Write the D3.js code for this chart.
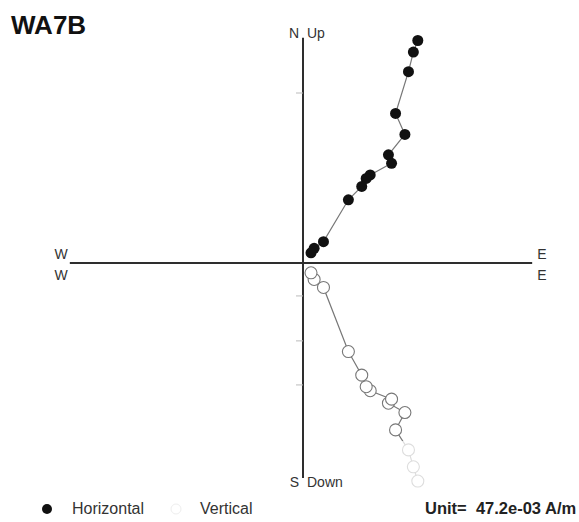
<!DOCTYPE html>
<html>
<head>
<meta charset="utf-8">
<script src="https://cdn.jsdelivr.net/npm/d3@7/dist/d3.min.js"></script>
<style>
  html, body { margin: 0; padding: 0; background: #fff; }
  svg { display: block; font-family: "Liberation Sans", Arial, sans-serif; }
</style>
</head>
<body>
<svg id="chart" width="579" height="522"></svg>
<script>
// Demagnetisation steps of specimen WA7B, in units of 47.2e-03 A/m.
const specimen = "WA7B";
const unitLabel = "Unit=  47.2e-03 A/m";
const east  = [2.58, 2.48, 2.37, 2.08, 2.29, 1.92, 1.99, 1.51, 1.42, 1.32, 1.02, 0.46, 0.25, 0.18];
const north = [5.00, 4.74, 4.30, 3.36, 2.89, 2.43, 2.24, 1.98, 1.90, 1.72, 1.42, 0.48, 0.33, 0.23];
const up    = [-4.90, -4.58, -4.20, -3.75, -3.36, -3.15, -3.06, -2.87, -2.78, -2.52, -1.99, -0.55, -0.37, -0.22];
// Axis extents and tick positions (same units)
const axisEW = [-5.24, 5.15];
const axisNS = [-4.83, 5.06];
const tickNS = [3.82, -0.74, -1.75, -2.74];

const svg = d3.select("#chart");
const x = d3.scaleLinear().domain([0, 1]).range([303, 347.5]);
const y = d3.scaleLinear().domain([0, 1]).range([263, 218.5]);

// Axes
const axisColor = "#2e2e2e";
svg.append("line")
  .attr("x1", x(axisEW[0])).attr("x2", x(axisEW[1]))
  .attr("y1", y(0)).attr("y2", y(0))
  .attr("stroke", axisColor).attr("stroke-width", 1.8);
svg.append("line")
  .attr("x1", x(0)).attr("x2", x(0))
  .attr("y1", y(axisNS[1])).attr("y2", y(axisNS[0]))
  .attr("stroke", axisColor).attr("stroke-width", 2);
svg.selectAll("line.tick").data(tickNS).join("line")
  .attr("class", "tick")
  .attr("x1", x(0) - 7).attr("x2", x(0))
  .attr("y1", d => y(d)).attr("y2", d => y(d))
  .attr("stroke", "#bbb").attr("stroke-width", 1);

// Horizontal projection (E vs N) and vertical projection (E vs Down)
const horiz = east.map((e, i) => [e, north[i]]);
const vert = east.map((e, i) => [e, up[i]]);
const line = d3.line().x(d => x(d[0])).y(d => y(d[1]));

svg.append("path").datum(horiz).attr("d", line)
  .attr("fill", "none").attr("stroke", "#777").attr("stroke-width", 1.2);
svg.append("path").datum(vert).attr("d", line)
  .attr("fill", "none").attr("stroke", "#777").attr("stroke-width", 1.2);

svg.selectAll("circle.h").data(horiz).join("circle")
  .attr("class", "h")
  .attr("cx", d => x(d[0])).attr("cy", d => y(d[1])).attr("r", 5.5)
  .attr("fill", "#111");
svg.selectAll("circle.v").data(vert).join("circle")
  .attr("class", "v")
  .attr("cx", d => x(d[0])).attr("cy", d => y(d[1])).attr("r", 6)
  .attr("fill", "#fff").attr("stroke", "#777").attr("stroke-width", 1.1);

// Washed-out band along the bottom of the plot
svg.append("rect")
  .attr("x", x(0) + 2).attr("y", y(-4.0))
  .attr("width", 140).attr("height", 60)
  .attr("fill", "#fff").attr("opacity", 0.75);

// Axis labels
const lab = (t, px, py, anchor) => svg.append("text")
  .attr("x", px).attr("y", py).attr("text-anchor", anchor || "start")
  .attr("font-size", 14).attr("fill", "#333").text(t);
lab("N", x(0) - 4, y(axisNS[1]) - 0, "end");
lab("Up", x(0) + 4, y(axisNS[1]) - 0);
lab("S", x(0) - 4, y(axisNS[0]) + 9, "end");
lab("Down", x(0) + 4, y(axisNS[0]) + 9);
lab("W", x(axisEW[0]) - 2, y(0) - 4, "end");
lab("W", x(axisEW[0]) - 2, y(0) + 17, "end");
lab("E", x(axisEW[1]) + 5, y(0) - 4);
lab("E", x(axisEW[1]) + 5, y(0) + 17);

// Title
svg.append("text").attr("x", 11).attr("y", 34)
  .attr("font-size", 26).attr("font-weight", "bold").attr("fill", "#111")
  .text(specimen);

// Legend
svg.append("circle").attr("cx", 47).attr("cy", 509).attr("r", 5).attr("fill", "#111");
svg.append("text").attr("x", 72).attr("y", 514).attr("font-size", 16).attr("fill", "#333").text("Horizontal");
svg.append("circle").attr("cx", 176).attr("cy", 509).attr("r", 5)
  .attr("fill", "#fff").attr("stroke", "#eee");
svg.append("text").attr("x", 200).attr("y", 514).attr("font-size", 16).attr("fill", "#333").text("Vertical");
svg.append("text").attr("x", 425).attr("y", 514).attr("font-size", 16.5)
  .attr("font-weight", "bold").attr("fill", "#222")
  .style("white-space", "pre").text(unitLabel);
</script>
</body>
</html>
